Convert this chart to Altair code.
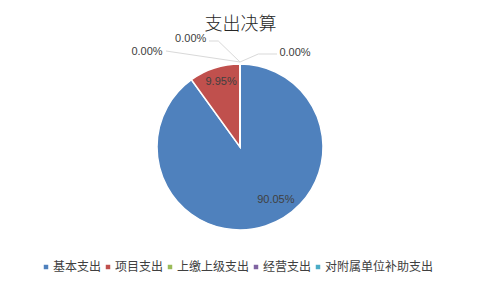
import altair as alt
import pandas as pd

categories = ["基本支出", "项目支出", "上缴上级支出", "经营支出", "对附属单位补助支出"]
values = [90.05, 9.95, 0.0, 0.0, 0.0]
labels = ["90.05%", "9.95%", "0.00%", "0.00%", "0.00%"]
colors = ["#4F81BD", "#C0504D", "#9BBB59", "#8064A2", "#4BACC6"]

df = pd.DataFrame({
    "category": categories,
    "value": values,
    "label": labels,
    "order": list(range(len(categories))),
})

CX, CY = 240, 117
FONT = "Noto Sans CJK SC"
NUMFONT = "Liberation Sans"
TXT = "#404040"

theta = alt.Theta("value:Q", stack=True)
order = alt.Order("order:Q")

pie = alt.Chart(df).mark_arc(outerRadius=83, stroke="white", strokeWidth=1.5).encode(
    theta=theta,
    order=order,
    x=alt.value(CX),
    y=alt.value(CY),
    color=alt.Color(
        "category:N",
        sort=categories,
        scale=alt.Scale(domain=categories, range=colors),
        legend=alt.Legend(
            orient="none", direction="horizontal", legendX=40, legendY=231,
            title=None, symbolType="square", symbolSize=20, symbolStrokeWidth=0,
            labelFont=FONT, labelFontSize=12, labelColor=TXT,
            labelOffset=1, columnPadding=0, padding=0,
        ),
    ),
)

def label_layer(cat, radius, dx, dy):
    return alt.Chart(df).mark_text(
        radius=radius, dx=dx, dy=dy, font=NUMFONT, fontSize=11, color=TXT,
        align="center", baseline="middle",
    ).encode(
        theta=theta,
        order=order,
        detail="category:N",
        x=alt.value(CX),
        y=alt.value(CY),
        text=alt.condition(alt.datum.category == cat, "label:N", alt.value("")),
    )

lab_blue = label_layer("基本支出", 66, 15.5, -9.8)
lab_red = label_layer("项目支出", 68, 2, 0)
lab_z1 = label_layer("上缴上级支出", 84, -93, -11.3)
lab_z2 = label_layer("经营支出", 84, -49.3, -23.7)
lab_z3 = label_layer("对附属单位补助支出", 84, 55, -9.7)

seg = pd.DataFrame({"k": [0]})
def rule(x1, y1, x2, y2):
    return alt.Chart(seg).mark_rule(color="#d9d9d9", strokeWidth=1).encode(
        x=alt.value(x1), y=alt.value(y1 - 30), x2=alt.value(x2), y2=alt.value(y2 - 30)
    )

lines = [
    rule(240, 62, 218.3, 41), rule(218.3, 41, 209, 41),
    rule(240, 62, 166, 51),
    rule(240, 62, 258.3, 54), rule(258.3, 54, 277, 54),
]

chart = alt.layer(*lines, pie, lab_blue, lab_red, lab_z1, lab_z2, lab_z3).properties(
    width=481, height=259,
    autosize="none",
    background="white",
    padding={"top": 30, "left": 0, "right": 0, "bottom": 0},
    title=alt.Title("支出决算", font=FONT, fontSize=18, fontWeight=300,
                    color="#262626", anchor="middle", frame="group", offset=-4),
).configure_view(stroke="transparent", strokeWidth=0)

chart.save("out.html", embed_options={"renderer": "svg", "actions": False})
